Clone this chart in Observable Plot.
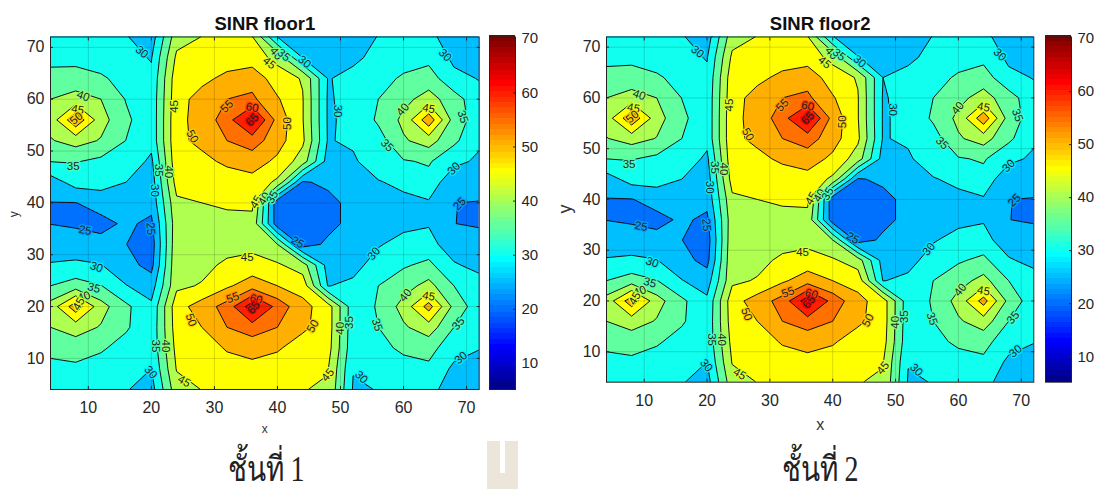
<!DOCTYPE html>
<html><head><meta charset="utf-8">
<script src="https://cdn.jsdelivr.net/npm/d3@7"></script>
<script src="https://cdn.jsdelivr.net/npm/@observablehq/plot@0.6"></script>
<style>
html,body{margin:0;padding:0;background:#fff;width:1094px;height:489px;overflow:hidden}
#root{position:relative;width:1094px;height:489px}
#root>*{position:absolute}
svg{overflow:visible;background:transparent!important}
.cap{font-family:"Liberation Serif","DejaVu Serif",serif;font-size:28px;line-height:28px;height:28px;color:#222;white-space:nowrap;transform-origin:50% 24px;transform:translateX(-50%) scaleY(1.25)}
</style></head><body><div id="root"></div>
<script>
const levels=[20,25,30,35,40,45,50,55,60,65];
const xTicks=[10,20,30,40,50,60,70];
const yTicks=[10,20,30,40,50,60,70];
const barTicks=[10,20,30,40,50,60,70];
// rows run from y=72 down to y=4, columns from x=4 to x=72, both every 4 units
const floor1=[
[30.5,30.8,31.5,30.3,27.5,43,45.1,46,45.3,30,27,26,27.5,30.2,31,30.5,29,27],
[33,33.5,33,31.5,29.7,46,47,48,47.5,43.5,30,27.5,29.3,31,32,33.5,29,27],
[37.4,37,35.6,33.5,31,48,49,51,53,47.5,44.6,29.8,31,32.5,36,37.5,31.2,29.8],
[40,42,40,34.7,31.5,48.5,51.5,55,56,50.5,45.3,29.5,31.5,35,38.6,42,37.3,31.5],
[42,54,42,36,31.5,49,51.3,58,67,53.2,45.3,29.5,31,35.8,41.2,53.4,37.8,32.4],
[39.6,42,39.6,34.9,31.5,49,51,55,57.5,52,46,29.6,31,32.8,39.4,42.2,36,31],
[35.1,35.3,33.8,33,29,48.5,48.9,50.8,52.2,49,42.5,28,29,34,34.6,35.5,31.5,29],
[27.6,32,32,30,27.5,47,47,47.8,48.3,44,24.5,26,28,29.5,31.8,33.4,26,28],
[24.9,24.9,27,27.5,26.5,44,45,45.5,46,21.5,22,23.5,26.5,28,28,29.4,25.05,24.7],
[24.9,24,23.5,25.8,24,43,43.5,44,43.5,22,21.5,23.5,26.5,27.5,28.5,29.6,25.05,24.5],
[28,28.5,26.6,25.05,22.5,43.5,43.5,43,43.5,40,22.5,26,27.5,29.5,32,31.8,27,27],
[30.3,30.5,30.2,26.6,23.5,44,43.5,46,47,45.7,42.5,28,28,32.6,34.4,36.2,30.6,28.4],
[35,37.5,35.2,30.2,27.5,44,45.4,49.2,52.7,50,48,29.8,31.3,35,38,41.7,35,32.4],
[42,53,42,36,31,48,52.3,57,68,58.1,51.5,47.5,32,35.5,41.9,52,38.5,32],
[40,42.3,39.6,35.6,31.5,47.5,50,55,57.7,55,51,47.5,31.8,35,39.3,42.7,35,31.8],
[37,37.2,35.6,33.2,31.5,46.5,47.5,50.5,51.7,50.6,47.5,47,31.5,33.5,36,36.7,32,30.2],
[33,34,33,32,30,45.3,46,47.8,48.6,47.5,46.5,45.3,30.2,31.5,33,34,29,28],
[31,32,31,30.3,28,43,45.1,46,46.5,45.8,45.2,44.3,29.6,30.1,31.5,32.5,26,26]
];
const floor2=[
[30.5,30.8,31.5,30.4,27.5,43,45.2,46,45.4,30.2,27,26,27.5,30.2,31,30.5,29,27],
[33,33.6,33,31.5,29.7,46,47,48,47.6,43.5,30.2,27.5,29.3,31,32,33.5,29,27],
[37.4,37.2,35.6,33.5,31,48,49,51,53,47.5,44.6,30,31,32.5,36,37.5,31.2,29.8],
[40,42,40,34.9,31.5,48.5,51.5,55,56,50.5,45.3,29.6,31.5,35,38.6,42,37.3,31.5],
[42.3,54,42,36.2,31.5,49,51.3,58,67,53.2,45.3,29.6,31,35.8,41.2,53.4,37.8,32.4],
[39.8,42,39.8,35,31.5,49,51,55,57.5,52,46,29.6,31,32.8,39.4,42.2,36,31],
[35,35.3,33.8,33,29,48.5,48.9,50.8,52.2,49,42.5,28,29,34,34.6,35.5,31.5,29],
[27.8,32,32,30,27.5,47,47,47.8,48.3,44,24.5,26,28,29.5,31.8,33.4,26,28],
[24.8,24.8,27,27.5,26.5,44,45,45.5,46,21.5,22,23.5,26.5,28,28,29.4,25.05,24.7],
[24.9,24,23.5,25.8,24,43,43.5,44,43.5,22,21.5,23.5,26.5,27.5,28.5,29.6,25.05,24.5],
[28,28.5,26.6,25.05,22.5,43.5,43.5,43,43.5,40,22.5,26,27.5,29.5,32,31.8,27,27],
[30.3,30.5,30.2,26.6,23.5,44,43.5,46,47,45.7,42.5,28,28,32.6,34.4,36.2,30.6,28.4],
[35,37.5,35.2,30.2,27.5,44,45.4,49.2,52.7,50,48,29.8,31.3,35,38,41.7,35,32.4],
[42,53,42,36,31,48,52.3,57,68,58.1,51.5,47.5,32,35.5,41.9,52,38.5,32],
[40,42.3,39.6,35.6,31.5,47.5,50,55,57.7,55,51,47.5,31.8,35,39.3,42.7,35,31.8],
[37,37.2,35.6,33.2,31.5,46.5,47.5,50.5,51.7,50.6,47.5,47,31.5,33.5,36,36.7,32,30.2],
[33,34,33,32,30,45.3,46,47.8,48.6,47.5,46.5,45.3,30.2,31.5,33,34,29,28],
[31,32,31,30.3,28,43,45.1,46,46.5,45.8,45.2,44.3,29.6,30.1,31.5,32.5,26,26]
];
// contour labels: level, x, y, angle
const labelRows=[
[30,18.5,69.1,40],[40,9.2,60.6,20],[45,8.3,58,10],[50,8.1,56.3,-40],[35,7.6,47,0],[25,9.5,34.7,10],[25,19.9,35,85],
[30,20.5,42.4,90],[35,21.2,46.3,90],[40,22.7,46,90],[45,23.6,58.6,-90],[55,32,58.6,-45],[60,36,58.4,10],[65,36,56,-45],
[50,26.5,52.8,60],[50,41.6,55.3,-90],[45,38.7,67,40],[40,39.8,68.8,50],[35,41,68.5,40],[30,44.3,67.2,40],
[45,36.6,40.2,-60],[40,37.9,40.8,-60],[35,39.2,41.1,-60],[25,43.2,32.4,30],[30,49.5,57.7,90],[30,66.6,68.5,45],
[40,59.9,58,-50],[45,64,58.2,10],[35,69.4,56.6,70],[35,57.4,51.1,45],[30,68,46.6,-45],[25,68.9,39.8,-45],
[30,11.3,27.6,20],[35,10.9,23.6,15],[40,9.3,21.9,-20],[45,8.5,20.5,-60],[45,35.2,29.5,0],[55,32.9,21.7,-20],[60,36.6,21.4,15],[65,36.2,19.8,-50],
[50,26.3,17.4,70],[35,20.7,12.4,90],[40,22.3,12.4,90],[30,19.9,7.3,50],[45,25.2,5.6,30],
[30,55.3,30.2,-50],[40,60.3,22.2,-50],[45,64,22,10],[35,55.8,16.5,70],[35,68.7,16.7,-50],[30,69.1,10.1,-40],
[50,45.6,16.2,-60],[45,48,6.8,-50],[40,50,15.8,-90],[35,51.4,16.9,-90],[30,53.3,6.4,45]
];
const titles=["SINR floor1","SINR floor2"];
const captions=["ชั้นที่ 1","ชั้นที่ 2"];
// 64-step jet, as in the reference's colour bar
const jet=t=>{const q=Math.min(64,Math.floor(t*64)+1)/64;const c=v=>Math.round(255*Math.max(0,Math.min(1,v)));
  return `rgb(${c(1.5-Math.abs(4*q-3))},${c(1.5-Math.abs(4*q-2))},${c(1.5-Math.abs(4*q-1))})`;};
const colorScale={type:"linear",domain:[5.2,70.3],interpolate:jet};
const font='"Liberation Sans",Arial,sans-serif';
const root=document.getElementById("root");
function place(el,l,t){el.style.left=l+"px";el.style.top=t+"px";root.appendChild(el);}
function panel(o){
  const labels=labelRows.map(([level,x,y,angle])=>({level,x,y,angle}));
  const p=Plot.plot({
    width:o.right+1,height:o.bottom+51,
    marginLeft:o.left,marginRight:1,marginTop:o.top,marginBottom:51,
    style:{fontFamily:font,background:"transparent"},
    x:{domain:[4,72]},y:{domain:[4,72]},color:colorScale,
    marks:[
      Plot.contour(o.data.flat(),{width:18,height:18,x1:2,x2:74,y1:74,y2:2,thresholds:levels,fill:Plot.identity,stroke:"#111",strokeWidth:1,clip:true}),
      Plot.gridX(xTicks,{stroke:"#000",strokeOpacity:.16}),
      Plot.gridY(yTicks,{stroke:"#000",strokeOpacity:.16}),
      Plot.text(labels,{x:"x",y:"y",text:d=>String(d.level),rotate:"angle",fill:"#222",stroke:d=>d.level-2,strokeWidth:2.5,fontSize:11.5,clip:true}),
      Plot.axisX(xTicks,{anchor:"bottom",tickSize:-3,tickPadding:15,fontSize:o.tick,label:null,color:"#262626",stroke:"#262626"}),
      Plot.axisY(yTicks,{anchor:"left",tickSize:-3,tickPadding:9,fontSize:o.tick,label:null,color:"#262626",stroke:"#262626"}),
      Plot.axisX(xTicks,{anchor:"top",tickSize:-3,text:null,label:null,stroke:"#262626"}),
      Plot.axisY(yTicks,{anchor:"right",tickSize:-3,text:null,label:null,stroke:"#262626"}),
      Plot.frame({stroke:"#222",strokeWidth:1}),
      Plot.text([o.title],{frameAnchor:"top",dy:-7,lineAnchor:"bottom",fontSize:o.titleSize,fontWeight:"bold",fill:"#111"}),
      Plot.text(["x"],{frameAnchor:"bottom",dy:o.xDy,fontSize:o.axisSize,fill:"#333"}),
      Plot.text(["y"],{frameAnchor:"left",dx:o.yDx,dy:4,rotate:-90,fontSize:o.yAxisSize,fill:"#333"})
    ]});
  place(p,0+o.ox,0);
  const steps=d3.range(5.2,70.3,0.25);
  const c=Plot.plot({
    width:o.barRight-o.barLeft+40,height:o.bottom+10,
    marginLeft:0,marginRight:40,marginTop:o.top,marginBottom:10,
    style:{fontFamily:font,background:"transparent"},
    x:{domain:[0,1],axis:null},y:{domain:[5.2,70.3]},color:colorScale,
    marks:[
      Plot.rect(steps,{x1:0,x2:1,y1:d=>d,y2:d=>d+0.3,fill:d=>d,shapeRendering:"crispEdges"}),
      Plot.axisY(barTicks,{anchor:"right",tickSize:-3,tickPadding:9,fontSize:15,label:null,color:"#262626",stroke:"#262626"}),
      Plot.frame({stroke:"#222"})
    ]});
  place(c,o.barLeft,0);
  const cap=document.createElement("div");cap.className="cap";cap.textContent=o.caption;
  place(cap,o.capX,o.capY);
}
panel({data:floor1,title:titles[0],caption:captions[0],ox:0,left:50,right:478.7,top:36.5,bottom:389,tick:16,titleSize:18.5,axisSize:12,yAxisSize:12,xDy:44,yDx:-36,barLeft:489,barRight:515,capX:266,capY:457.5});
panel({data:floor2,title:titles[1],caption:captions[1],ox:555.7,left:50,right:477.3,top:36.5,bottom:381.7,tick:16,titleSize:18.5,axisSize:16,yAxisSize:18,xDy:48,yDx:-41,barLeft:1044.7,barRight:1070.7,capX:820,capY:457.5});
const wm=document.createElement("div");wm.style.cssText="width:31px;height:48px;background:#ece5d9";place(wm,487,441);
const notch=document.createElement("div");notch.style.cssText="width:4.5px;height:32px;background:#fff";place(notch,500,441);
</script></body></html>
